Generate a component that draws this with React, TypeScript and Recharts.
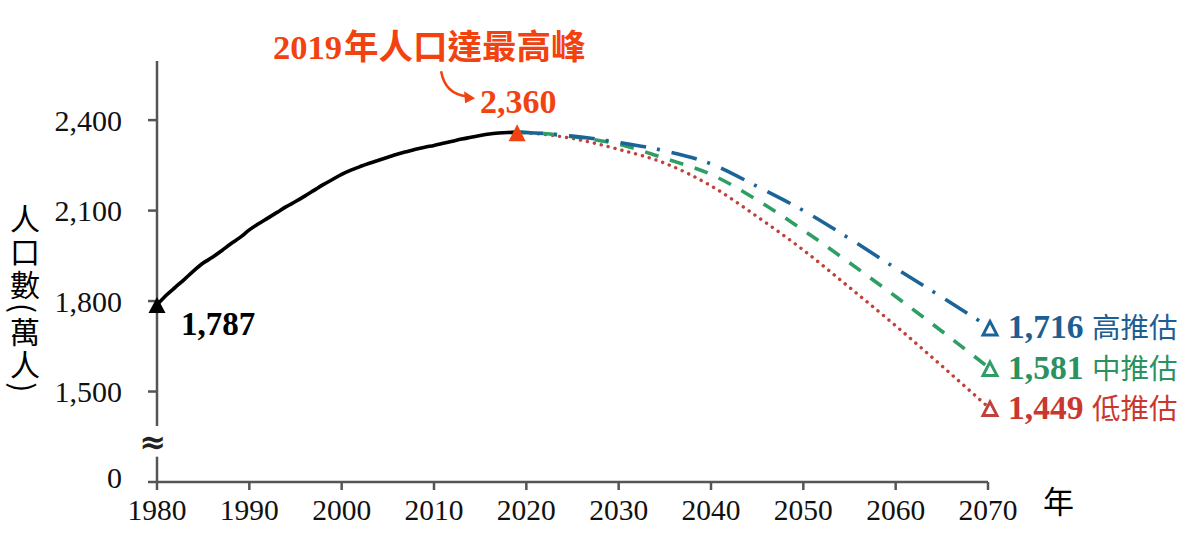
import React from 'react';
import { LineChart, Line, XAxis, YAxis, ReferenceDot, ReferenceLine } from 'recharts';

// ---------- data ----------
const histYears = [
  1980, 1981, 1982, 1983, 1984, 1985, 1986, 1987, 1988, 1989,
  1990, 1991, 1992, 1993, 1994, 1995, 1996, 1997, 1998, 1999,
  2000, 2001, 2002, 2003, 2004, 2005, 2006, 2007, 2008, 2009,
  2010, 2011, 2012, 2013, 2014, 2015, 2016, 2017, 2018, 2019,
];
const histPop = [
  1787, 1819, 1846, 1873, 1901, 1926, 1945, 1967, 1990, 2011,
  2036, 2056, 2075, 2094, 2113, 2130, 2148, 2167, 2186, 2203,
  2220, 2234, 2246, 2257, 2267, 2277, 2287, 2295, 2303, 2310,
  2316, 2323, 2330, 2337, 2343, 2349, 2354, 2357, 2359, 2360,
];
const projYears = [2019, 2020, 2025, 2030, 2035, 2040, 2045, 2050, 2055, 2060, 2065, 2070];
const highProj = [2360, 2359, 2347, 2326, 2298, 2255, 2180, 2100, 2007, 1909, 1813, 1716];
const midProj = [2360, 2359, 2345, 2320, 2273, 2220, 2135, 2035, 1927, 1815, 1700, 1581];
const lowProj = [2360, 2358, 2339, 2303, 2257, 2182, 2080, 1969, 1845, 1718, 1585, 1449];
const projNames = ['高推估', '中推估', '低推估'];

const xTicks = [1980, 1990, 2000, 2010, 2020, 2030, 2040, 2050, 2060, 2070];
// "0" sits at the broken-axis position 1200 on the scale
const yTicks = [1200, 1500, 1800, 2100, 2400];
const yTickLabels = ['0', '1,500', '1,800', '2,100', '2,400'];
const peakYear = 2019;
const peakValue = 2360;
const titleText = ['2019', '年人口達最高峰'];
const yAxisTitle = '人口數(萬人)';
const xAxisTitle = '年';

// ---------- build table ----------
const allYears = Array.from(new Set([...histYears, ...projYears])).sort((a, b) => a - b);
const data = allYears.map((y) => {
  const hi = histYears.indexOf(y);
  const pi = projYears.indexOf(y);
  return {
    year: y,
    actual: hi >= 0 ? histPop[hi] : null,
    high: pi >= 0 ? highProj[pi] : null,
    mid: pi >= 0 ? midProj[pi] : null,
    low: pi >= 0 ? lowProj[pi] : null,
  };
});

// ---------- styles ----------
const SERIF = '"Liberation Serif", "Times New Roman", serif';
const CJK = '"Noto Sans CJK TC", "Noto Sans CJK SC", sans-serif';
const AXIS = '#555555';
const ORANGE = '#f2420f';
const BLUE_LINE = '#1b6497';
const BLUE_TEXT = '#1d5e93';
const GREEN_LINE = '#2e9e64';
const GREEN_TEXT = '#2a9160';
const RED_LINE = '#c0413b';
const RED_TEXT = '#c9372f';

const fmt = (v: number) => v.toLocaleString('en-US');

const YTick = (props: any) => {
  const { x, y, payload } = props;
  const idx = yTicks.indexOf(payload.value);
  const label = idx >= 0 ? yTickLabels[idx] : String(payload.value);
  const off = payload.value === 1200 ? -5 : 0;
  return (
    <text x={x} y={y + off} dy="0.355em" textAnchor="end" fontFamily={SERIF} fontSize={30} fill="#111">
      {label}
    </text>
  );
};

const XTick = (props: any) => {
  const { x, y, payload } = props;
  return (
    <text x={x} y={y} dy="0.71em" textAnchor="middle" fontFamily={SERIF} fontSize={29.5} fill="#111">
      {payload.value}
    </text>
  );
};

const PeakMark = (props: any) => {
  const { cx, cy } = props;
  return (
    <g>
      <polygon points={`${cx},${cy - 8} ${cx + 8.5},${cy + 9} ${cx - 8.5},${cy + 9}`} fill={ORANGE} />
      <text x={cx - 37} y={cy - 19} fontFamily={SERIF} fontWeight="bold" fontSize={34} fill={ORANGE}>
        {fmt(peakValue)}
      </text>
      <path
        d={`M${cx - 76},${cy - 61} Q${cx - 72},${cy - 38} ${cx - 50},${cy - 36}`}
        stroke={ORANGE}
        strokeWidth={2.5}
        fill="none"
      />
      <polygon
        points={`${cx - 42},${cy - 34} ${cx - 53},${cy - 41} ${cx - 52},${cy - 29}`}
        fill={ORANGE}
      />
      <text x={cx - 244} y={cy - 73} fill={ORANGE} fontWeight="bold">
        <tspan fontFamily={SERIF} fontSize={34.5}>{titleText[0]}</tspan>
        <tspan fontFamily={CJK} fontSize={34.5} dx={2}>{titleText[1]}</tspan>
      </text>
    </g>
  );
};

const StartMark = (props: any) => {
  const { cx, cy } = props;
  return (
    <g>
      <polygon points={`${cx},${cy - 8} ${cx + 8.5},${cy + 8} ${cx - 8.5},${cy + 8}`} fill="#000" />
      <text x={cx + 24} y={cy + 30} fontFamily={SERIF} fontWeight="bold" fontSize={33} fill="#000">
        {fmt(histPop[0])}
      </text>
    </g>
  );
};

const makeEndMark = (value: number, name: string, lineColor: string, textColor: string) => (props: any) => {
  const { cx, cy } = props;
  return (
    <g>
      <polygon
        points={`${cx + 2},${cy - 5} ${cx + 9},${cy + 8.5} ${cx - 5},${cy + 8.5}`}
        fill="#fff"
        stroke={lineColor}
        strokeWidth={3}
        strokeLinejoin="miter"
      />
      <text x={cx + 20} y={cy + 12} fontFamily={SERIF} fontWeight="bold" fontSize={33.5} fill={textColor}>
        {fmt(value)}
      </text>
      <text x={cx + 104} y={cy + 12} fontFamily={CJK} fontSize={28.5} fill={textColor}>
        {name}
      </text>
    </g>
  );
};

const BreakMark = (props: any) => {
  const { cx, cy } = props;
  return (
    <text x={cx - 4} y={cy} dominantBaseline="central" textAnchor="middle" fontFamily='"DejaVu Sans", sans-serif' fontWeight="bold" fontSize={32} fill="#222">
      ≈
    </text>
  );
};

const last = projYears.length - 1;
const lastYear = projYears[last];

export default function App() {
  return (
    <div style={{ position: 'absolute', left: 0, top: 0, width: 1200, height: 544, background: '#fff' }}>
      <LineChart
        width={1200}
        height={544}
        data={data}
        margin={{ top: 61, right: 212, bottom: 22, left: 0 }}
      >
        <XAxis
          dataKey="year"
          type="number"
          domain={[1980, 2070]}
          ticks={xTicks}
          interval={0}
          height={40}
          axisLine={{ stroke: AXIS, strokeWidth: 2.5 }}
          tickLine={{ stroke: AXIS, strokeWidth: 2.5 }}
          tickSize={8}
          tickMargin={9}
          tick={<XTick />}
          label={{ value: xAxisTitle, position: 'right', offset: 55, style: { fontFamily: CJK, fontSize: 31, fill: '#000' } }}
        />
        <YAxis
          type="number"
          domain={[1200, 2596]}
          ticks={yTicks}
          interval={0}
          width={157}
          axisLine={false}
          tickLine={{ stroke: AXIS, strokeWidth: 2.5 }}
          tickSize={9}
          tickMargin={26}
          tick={<YTick />}
        />
        <ReferenceLine
          segment={[{ x: 1980, y: 1200 }, { x: 1980, y: 1284 }]}
          stroke={AXIS}
          strokeWidth={2.5}
          ifOverflow="visible"
        />
        <ReferenceLine
          segment={[{ x: 1980, y: 1386 }, { x: 1980, y: 2596 }]}
          stroke={AXIS}
          strokeWidth={2.5}
          ifOverflow="visible"
        />
        <ReferenceDot x={1980} y={1333} r={0} ifOverflow="visible" shape={<BreakMark />} />

        <Line dataKey="low" type="monotone" stroke={RED_LINE} strokeWidth={3.4} strokeLinecap="round" strokeDasharray="0.1 7" dot={false} activeDot={false} isAnimationActive={false} />
        <Line dataKey="mid" type="monotone" stroke={GREEN_LINE} strokeWidth={3.6} strokeDasharray="14 12" dot={false} activeDot={false} isAnimationActive={false} />
        <Line dataKey="high" type="monotone" stroke={BLUE_LINE} strokeWidth={3.6} strokeDasharray="26 11 3 12" dot={false} activeDot={false} isAnimationActive={false} />
        <Line dataKey="actual" type="monotone" stroke="#000" strokeWidth={3.6} dot={false} activeDot={false} isAnimationActive={false} />

        <ReferenceDot x={histYears[0]} y={histPop[0]} r={0} ifOverflow="visible" shape={<StartMark />} />
        <ReferenceDot x={peakYear} y={peakValue} r={0} ifOverflow="visible" shape={<PeakMark />} />
        <ReferenceDot x={lastYear} y={highProj[last]} r={0} ifOverflow="visible" shape={makeEndMark(highProj[last], projNames[0], BLUE_LINE, BLUE_TEXT)} />
        <ReferenceDot x={lastYear} y={midProj[last]} r={0} ifOverflow="visible" shape={makeEndMark(midProj[last], projNames[1], GREEN_LINE, GREEN_TEXT)} />
        <ReferenceDot x={lastYear} y={lowProj[last]} r={0} ifOverflow="visible" shape={makeEndMark(lowProj[last], projNames[2], RED_LINE, RED_TEXT)} />
      </LineChart>
      <div
        style={{
          position: 'absolute',
          left: 10,
          top: 204,
          writingMode: 'vertical-rl',
          fontFamily: CJK,
          fontSize: 30,
          lineHeight: '30px',
          letterSpacing: 3,
          color: '#000',
        }}
      >
        {yAxisTitle}
      </div>
    </div>
  );
}
